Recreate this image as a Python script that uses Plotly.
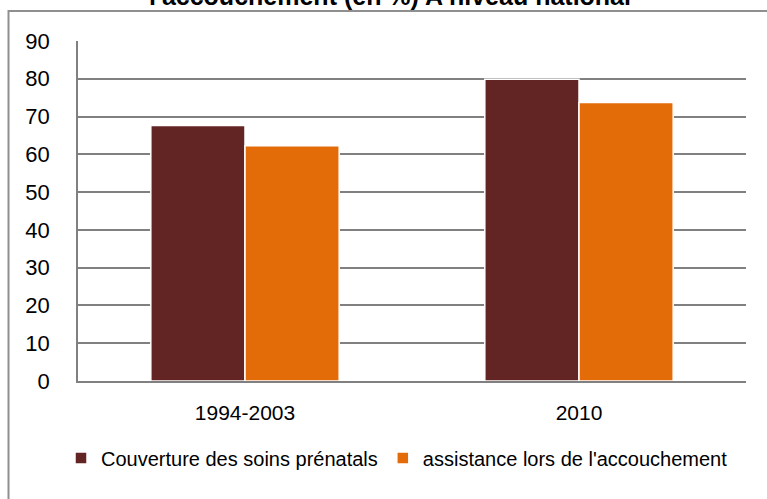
import plotly.graph_objects as go

categories = ["1994-2003", "2010"]
series_names = ["Couverture des soins prénatals", "assistance lors de l'accouchement"]
soins_prenatals = [67.6, 79.9]
assistance_accouchement = [62.3, 73.7]
y_ticks = [0, 10, 20, 30, 40, 50, 60, 70, 80, 90]
title_text = "l'accouchement (en %) A niveau national"

colors = ["#632523", "#E36C09"]
FONT = "Liberation Sans, Arial, sans-serif"

fig = go.Figure()
for name, vals, col in zip(series_names, [soins_prenatals, assistance_accouchement], colors):
    fig.add_trace(go.Bar(
        x=categories, y=vals, name=name,
        marker=dict(color=col, line=dict(color="white", width=1.5)),
    ))

W, H = 767, 499
ml, mr, mt, mb = 78, 21, 41, 118
pw, ph = W - ml - mr, H - mt - mb

def px_x(p):
    return (p - ml) / pw

def px_y(p):
    return (H - mb - p) / ph

fig.update_layout(
    width=W, height=H,
    margin=dict(l=ml, r=mr, t=mt, b=mb),
    paper_bgcolor="white", plot_bgcolor="white",
    barmode="group", bargap=0.436, bargroupgap=0.0,
    font=dict(family=FONT, size=21, color="#000000"),
    showlegend=True,
    legend=dict(
        orientation="h", x=px_x(397), xanchor="center",
        y=px_y(458), yanchor="middle",
        font=dict(family=FONT, size=20, color="#000000"),
        itemwidth=30, traceorder="normal",
        bgcolor="rgba(0,0,0,0)",
    ),
    xaxis=dict(
        showgrid=False, showline=True, linecolor="#808080", linewidth=1.5,
        ticks="", ticklabelstandoff=12,
        tickfont=dict(family=FONT, size=21, color="#000000"),
    ),
    yaxis=dict(
        range=[0, 90], tickvals=y_ticks, showgrid=True,
        gridcolor="#808080", gridwidth=1.5,
        showline=True, linecolor="#808080", linewidth=1.5,
        ticks="", ticklabelstandoff=22, zeroline=False,
        tickfont=dict(family=FONT, size=22, color="#000000"),
    ),
    shapes=[dict(
        type="rect", xref="paper", yref="paper",
        x0=px_x(8.5), x1=1.2, y0=-0.6, y1=px_y(11),
        line=dict(color="#8f8f8f", width=2), fillcolor="rgba(0,0,0,0)",
        layer="below",
    )],
    annotations=[dict(
        text="<b>" + title_text + "</b>", xref="paper", yref="paper",
        x=px_x(390), y=px_y(-4), xanchor="center", yanchor="middle",
        showarrow=False, font=dict(family=FONT, size=25, color="#000000"),
    )],
)

fig.write_html(
    "out.html",
    config={"displayModeBar": False},
    post_script="document.body.style.margin='0';document.body.style.overflow='hidden';",
)
